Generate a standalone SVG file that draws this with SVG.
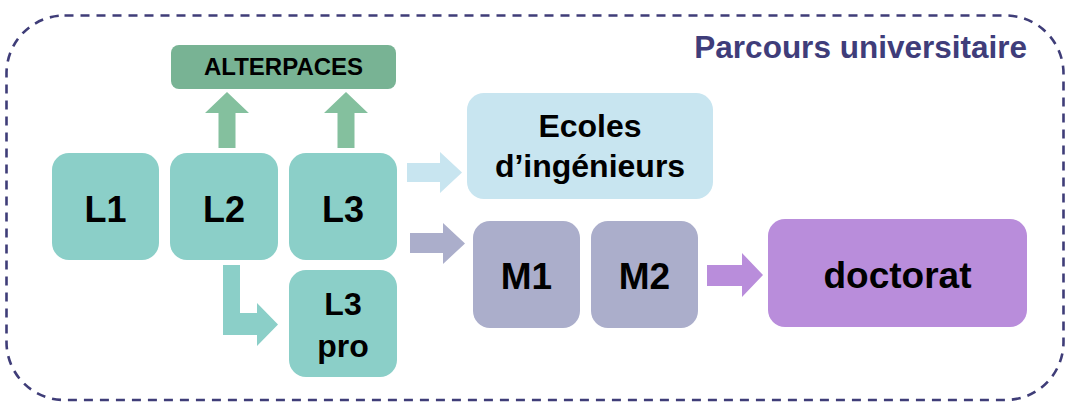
<svg xmlns="http://www.w3.org/2000/svg" width="1067" height="406" viewBox="0 0 1067 406">
  <style>
    text { font-family: "Liberation Sans", Arial, sans-serif; font-weight: bold; fill: #000; text-anchor: middle; }
    .teal { fill: #8bcfc8; }
    .green { fill: #78b394; }
    .greenArrow { fill: #84c09e; }
    .blue { fill: #c8e5f0; }
    .grey { fill: #abaecb; }
    .purple { fill: #b98ddb; }
    .frame { fill: none; stroke: #3f3d78; stroke-width: 2.6; stroke-dasharray: 9 7; }
    .title { fill: #3f3d7a; text-anchor: end; font-size: 31.5px; }
  </style>
  <rect width="1067" height="406" fill="#ffffff"/>
  <g id="frame">
    <rect class="frame" x="6.5" y="15.5" width="1057" height="384.5" rx="58" ry="58"/>
    <text class="title" x="1027" y="58">Parcours universitaire</text>
  </g>
  <g id="connectors">
    <polygon class="greenArrow" points="218.5,148 218.5,113 205,113 227,92 249,113 235.5,113 235.5,148"/>
    <polygon class="greenArrow" points="337.5,148 337.5,113 324,113 346,92 368,113 354.5,113 354.5,148"/>
    <polygon class="teal" points="223,265 240,265 240,313 257,313 257,303 278,324.5 257,346 257,335 223,335"/>
    <polygon class="blue" points="407,163 440,163 440,152 462,172.5 440,193 440,182 407,182"/>
    <polygon class="grey" points="410,233 443,233 443,223 465,243.5 443,264 443,253 410,253"/>
    <polygon class="purple" points="707,265 742,265 742,253 763,275 742,297 742,286 707,286"/>
  </g>
  <g id="alterpaces">
    <rect class="green" x="171" y="45" width="225" height="44" rx="8"/>
    <text x="283.5" y="75" font-size="24">ALTERPACES</text>
  </g>
  <g id="L1">
    <rect class="teal" x="52" y="153" width="107" height="107" rx="17"/>
    <text x="105.5" y="222" font-size="36">L1</text>
  </g>
  <g id="L2">
    <rect class="teal" x="170" y="153" width="108" height="107" rx="17"/>
    <text x="224" y="222" font-size="36">L2</text>
  </g>
  <g id="L3">
    <rect class="teal" x="289" y="153" width="108" height="107" rx="17"/>
    <text x="343" y="222" font-size="36">L3</text>
  </g>
  <g id="L3pro">
    <rect class="teal" x="289" y="270" width="108" height="107" rx="17"/>
    <text x="343" y="315" font-size="32">L3</text>
    <text x="343" y="357" font-size="32">pro</text>
  </g>
  <g id="ecoles">
    <rect class="blue" x="467" y="93" width="246" height="106" rx="17"/>
    <text x="590" y="137" font-size="32">Ecoles</text>
    <text x="590" y="177" font-size="32">d’ingénieurs</text>
  </g>
  <g id="M1">
    <rect class="grey" x="473" y="221" width="107" height="107" rx="17"/>
    <text x="526.5" y="289" font-size="37">M1</text>
  </g>
  <g id="M2">
    <rect class="grey" x="591" y="221" width="107" height="107" rx="17"/>
    <text x="644.5" y="289" font-size="37">M2</text>
  </g>
  <g id="doctorat">
    <rect class="purple" x="768" y="219" width="259" height="108" rx="17"/>
    <text x="897.5" y="288" font-size="37">doctorat</text>
  </g>
</svg>
